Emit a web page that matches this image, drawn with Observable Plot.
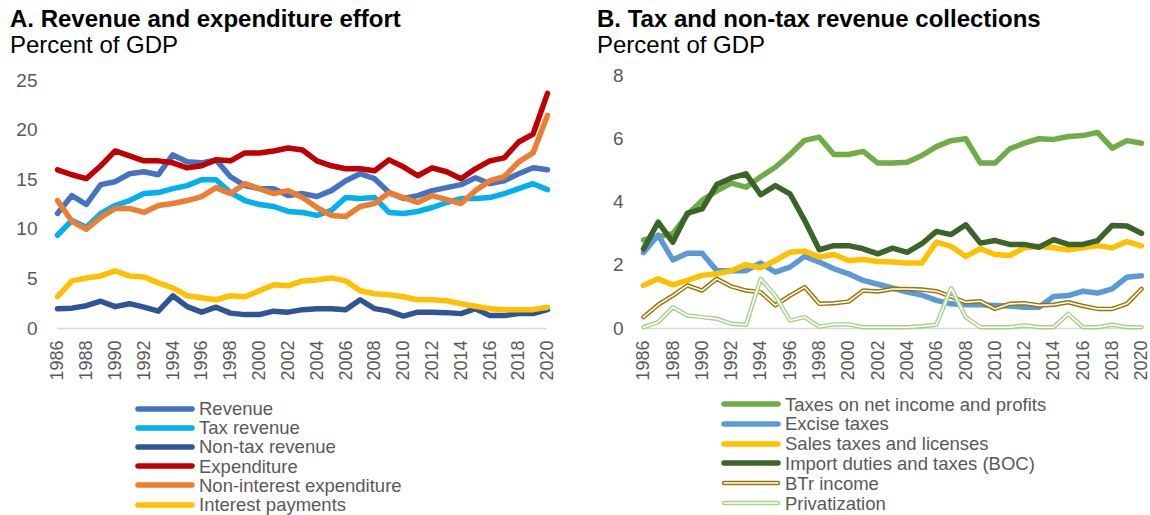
<!DOCTYPE html>
<html><head><meta charset="utf-8">
<script src="https://cdn.jsdelivr.net/npm/d3@7"></script>
<script src="https://cdn.jsdelivr.net/npm/@observablehq/plot@0.6"></script>
<style>
body{margin:0;background:#fff;font-family:"Liberation Sans",Arial,sans-serif;}
#root{position:relative;width:1150px;height:515px;overflow:hidden;background:#fff}
.t{position:absolute;font-size:24px;line-height:24px;color:#000;white-space:nowrap}
.b{font-weight:bold}
.row{position:absolute;height:17px;line-height:17px;display:flex;align-items:center;font-size:18.5px;color:#595959;white-space:nowrap}
.row span{line-height:17px}
.row svg{margin-right:4px}
.plot{position:absolute}
</style></head><body><div id="root"></div>
<script>
const years = [1986,1987,1988,1989,1990,1991,1992,1993,1994,1995,1996,1997,1998,1999,2000,2001,2002,2003,2004,2005,2006,2007,2008,2009,2010,2011,2012,2013,2014,2015,2016,2017,2018,2019,2020];
const tickYears = [1986,1988,1990,1992,1994,1996,1998,2000,2002,2004,2006,2008,2010,2012,2014,2016,2018,2020];

// Panel A
const revenue = [11.6,13.4,12.5,14.5,14.8,15.6,15.8,15.5,17.5,16.8,16.7,17.0,15.3,14.4,14.1,14.1,13.4,13.6,13.3,13.9,14.9,15.6,15.1,13.7,13.1,13.4,13.9,14.2,14.5,15.2,14.6,14.9,15.6,16.2,16.0];
const taxRevenue = [9.4,10.9,10.2,11.6,12.4,12.9,13.6,13.7,14.1,14.4,15.0,15.0,13.7,12.9,12.5,12.3,11.8,11.7,11.4,11.9,13.2,13.1,13.2,11.7,11.6,11.8,12.2,12.7,13.1,13.1,13.2,13.6,14.1,14.6,14.0];
const nonTaxRevenue = [2.0,2.05,2.3,2.75,2.2,2.5,2.15,1.75,3.3,2.2,1.65,2.15,1.55,1.4,1.4,1.75,1.65,1.9,2.0,2.0,1.9,2.9,2.0,1.75,1.25,1.65,1.65,1.6,1.5,2.0,1.3,1.3,1.5,1.5,1.9];
const expenditure = [16.0,15.5,15.1,16.4,17.9,17.4,16.9,16.9,16.7,16.2,16.4,17.0,16.9,17.7,17.7,17.9,18.2,18.0,16.9,16.4,16.1,16.1,15.9,17.0,16.3,15.4,16.2,15.8,15.1,16.1,16.9,17.2,18.8,19.6,23.7];
const nonInterestExp = [12.9,10.8,10.0,11.2,12.1,12.1,11.7,12.4,12.6,12.9,13.3,14.2,13.6,14.6,14.1,13.6,13.9,13.2,12.2,11.4,11.3,12.3,12.6,13.7,13.2,12.7,13.4,13.0,12.6,13.9,14.9,15.3,16.8,17.7,21.5];
const interestPayments = [3.2,4.8,5.1,5.3,5.8,5.3,5.2,4.6,4.1,3.3,3.1,2.9,3.3,3.2,3.8,4.4,4.3,4.8,4.9,5.1,4.8,3.8,3.5,3.4,3.2,2.9,2.9,2.8,2.5,2.25,2.0,1.9,1.9,1.9,2.15];
const namesA = ["Revenue","Tax revenue","Non-tax revenue","Expenditure","Non-interest expenditure","Interest payments"];
const colorsA = ["#4472C4","#00B0F0","#2F5597","#C00000","#ED7D31","#FFC000"];
const seriesA = [revenue,taxRevenue,nonTaxRevenue,expenditure,nonInterestExp,interestPayments];
const yTicksA = [0,5,10,15,20,25];

// Panel B
const incomeTaxes = [2.8,2.9,3.0,3.6,4.05,4.35,4.6,4.47,4.8,5.1,5.5,5.95,6.05,5.5,5.5,5.6,5.23,5.23,5.26,5.47,5.75,5.94,6.0,5.23,5.23,5.68,5.86,6.0,5.98,6.07,6.1,6.2,5.7,5.94,5.86];
const exciseTaxes = [2.4,2.95,2.17,2.38,2.38,1.83,1.83,1.83,2.07,1.78,1.94,2.28,2.1,1.89,1.73,1.52,1.4,1.28,1.15,1.06,0.89,0.78,0.75,0.75,0.73,0.71,0.67,0.67,1.01,1.04,1.18,1.12,1.25,1.62,1.67];
const salesTaxes = [1.36,1.57,1.38,1.52,1.68,1.73,1.83,2.02,1.92,2.15,2.41,2.45,2.26,2.34,2.15,2.18,2.12,2.1,2.07,2.07,2.73,2.6,2.28,2.52,2.34,2.31,2.55,2.6,2.55,2.49,2.55,2.62,2.55,2.75,2.61];
const importDuties = [2.52,3.36,2.73,3.65,3.78,4.55,4.76,4.89,4.23,4.52,4.26,3.42,2.49,2.62,2.62,2.52,2.36,2.54,2.41,2.68,3.07,2.97,3.28,2.7,2.78,2.66,2.66,2.57,2.81,2.66,2.66,2.78,3.26,3.24,3.01];
const btrIncome = [0.36,0.75,1.04,1.36,1.2,1.57,1.33,1.2,1.15,0.73,1.04,1.31,0.78,0.8,0.85,1.2,1.17,1.25,1.25,1.23,1.18,1.01,0.83,0.86,0.62,0.78,0.8,0.73,0.75,0.83,0.71,0.62,0.62,0.78,1.25];
const privatization = [0.04,0.2,0.67,0.41,0.36,0.31,0.15,0.12,1.57,1.04,0.25,0.36,0.06,0.13,0.13,0.04,0.04,0.04,0.04,0.07,0.12,1.28,0.36,0.04,0.04,0.04,0.1,0.04,0.04,0.46,0.04,0.04,0.12,0.04,0.04];
const namesB = ["Taxes on net income and profits","Excise taxes","Sales taxes and licenses","Import duties and taxes (BOC)","BTr income","Privatization"];
const colorsB = ["#70AD47","#5B9BD5","#FFC000","#3B6428","#9C7400","#A9D18E"];
const doubleB = [false,false,false,false,true,true];
const seriesB = [incomeTaxes,exciseTaxes,salesTaxes,importDuties,btrIncome,privatization];
const yTicksB = [0,2,4,6,8];

const root = document.getElementById("root");
function addText(txt, left, top, bold){
  const d = document.createElement("div");
  d.className = "t" + (bold ? " b" : "");
  d.style.left = left + "px"; d.style.top = top + "px";
  d.textContent = txt; root.appendChild(d);
}
addText("A. Revenue and expenditure effort", 10, 7, true);
addText("Percent of GDP", 10, 33, false);
addText("B. Tax and non-tax revenue collections", 597, 7, true);
addText("Percent of GDP", 597, 33, false);

function makePlot(series, colors, dbl, yDomain, yTicks, opts){
  const marks = [
    Plot.ruleY([0], {stroke:"#d9d9d9", strokeWidth:1.5}),
    Plot.axisY({ticks:yTicks, tickSize:0, tickPadding:opts.tickPad, fontSize:19, fill:"#595959"}),
    Plot.axisX({ticks:tickYears, tickFormat:d=>String(d), tickRotate:-90, tickSize:0, tickPadding:12, fontSize:18, fill:"#595959"})
  ];
  series.forEach((arr,i)=>{
    if (dbl[i]) {
      marks.push(Plot.line(arr, {x:years, y:arr, stroke:colors[i], strokeWidth:4.5, strokeLinejoin:"round"}));
      marks.push(Plot.line(arr, {x:years, y:arr, stroke:"#fff", strokeWidth:1.6, strokeLinejoin:"round"}));
    } else {
      marks.push(Plot.line(arr, {x:years, y:arr, stroke:colors[i], strokeWidth:5.5, strokeLinejoin:"round"}));
    }
  });
  const p = Plot.plot({
    width: opts.width, height: 345,
    marginLeft: opts.ml, marginRight: opts.mr, marginTop: opts.mt, marginBottom: 77,
    x: {domain:[1986,2020], axis:null},
    y: {domain:yDomain, axis:null},
    style: {fontFamily:"Liberation Sans, Arial, sans-serif", background:"transparent", overflow:"visible"},
    marks
  });
  p.classList.add("plot");
  p.style.left = opts.left + "px"; p.style.top = "60px";
  root.appendChild(p);
}
makePlot(seriesA, colorsA, [false,false,false,false,false,false], [0,25], yTicksA, {width:580, ml:57, mr:33, mt:20, left:0, tickPad:20});
makePlot(seriesB, colorsB, doubleB, [0,8], yTicksB, {width:560, ml:53, mr:9, mt:15, left:590, tickPad:20});

function addLegend(names, colors, dbl, sx, rows){
  names.forEach((n,i)=>{
    const r = document.createElement("div");
    r.className = "row";
    r.style.left = sx + "px"; r.style.top = (rows[i] - 8.5) + "px";
    const ns = "http://www.w3.org/2000/svg";
    const s = document.createElementNS(ns, "svg");
    s.setAttribute("width", 60); s.setAttribute("height", 10);
    const mk = (c,w)=>{ const l = document.createElementNS(ns,"line");
      l.setAttribute("x1",3); l.setAttribute("x2",57); l.setAttribute("y1",5); l.setAttribute("y2",5);
      l.setAttribute("stroke",c); l.setAttribute("stroke-width",w); l.setAttribute("stroke-linecap","round"); s.appendChild(l); };
    if (dbl[i]) { mk(colors[i],4.5); mk("#fff",1.6); } else mk(colors[i],5.5);
    r.appendChild(s);
    const t = document.createElement("span"); t.textContent = n; r.appendChild(t);
    root.appendChild(r);
  });
}
addLegend(namesA, colorsA, [false,false,false,false,false,false], 135, [408.5,427.7,446.9,466.1,485.3,504.5]);
addLegend(namesB, colorsB, doubleB, 721, [404,423.8,443.6,463.4,483.2,503]);
</script></body></html>
